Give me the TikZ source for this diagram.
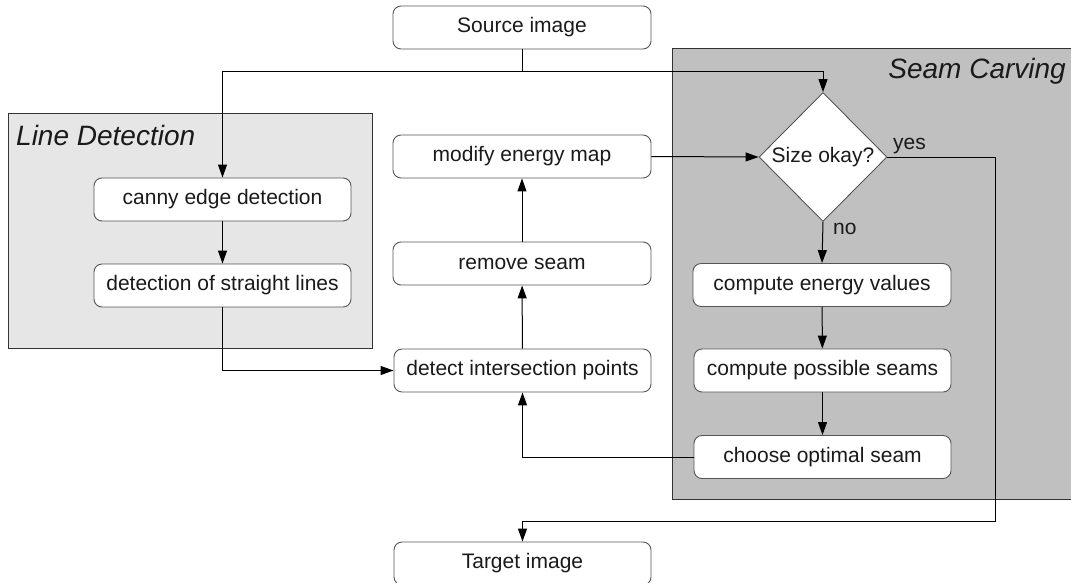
\documentclass[tikz,border=0pt]{standalone}
\usepackage{fontspec}
\setmainfont{Liberation Sans}
\usetikzlibrary{shapes.geometric,arrows.meta}
\definecolor{txt}{HTML}{1A1A1A}
\definecolor{boxline}{HTML}{555555}
\definecolor{ldfill}{HTML}{E6E6E6}
\definecolor{scfill}{HTML}{C0C0C0}
\definecolor{grpline}{HTML}{333333}
\tikzset{
  stepbox/.style={draw=boxline, line width=0.9pt, fill=white, rounded corners=8pt,
    minimum width=257pt, minimum height=43pt, inner sep=0pt, text=txt,
    font=\fontsize{21}{25}\selectfont},
  decision/.style={draw=boxline, line width=0.9pt, fill=white, diamond, aspect=1,
    minimum width=128pt, minimum height=129pt, inner sep=0pt, text=txt,
    font=\fontsize{21}{25}\selectfont},
  group/.style={draw=grpline, line width=1pt},
  grouptitle/.style={anchor=base west, inner sep=0pt, text=txt,
    font=\fontsize{28}{32}\selectfont\itshape},
  conn/.style={draw=black, line width=1pt},
  arr/.style={conn, -{Triangle[length=13pt,width=9pt]}},
  lbl/.style={text=txt, font=\fontsize{21}{25}\selectfont, inner sep=0pt}
}
\begin{document}
\begin{tikzpicture}[x=1pt,y=-1pt]
\useasboundingbox (0,0) rectangle (1071,582);
% group backgrounds
\draw[group, fill=ldfill] (8,113) rectangle (372,348);
\draw[group, fill=scfill] (672,48) rectangle (1085,499);
\node[grouptitle] (ldt) at (16,145) {Line Detection};
\node[grouptitle, anchor=base east] (sct) at (1066,78) {Seam Carving};
% nodes
\node[stepbox, minimum width=258pt] (src) at (522,27.5) {Source image};
\node[stepbox] (canny) at (222.5,199.5) {canny edge detection};
\node[stepbox] (straight) at (222.5,285.5) {detection of straight lines};
\node[stepbox, minimum width=258pt] (modify) at (522,156.5) {modify energy map};
\node[stepbox, minimum width=258pt] (remove) at (522,263.5) {remove seam};
\node[stepbox] (detect) at (522.5,370.5) {detect intersection points};
\node[stepbox] (target) at (522.5,563.5) {Target image};
\node[stepbox, minimum width=258pt] (energy) at (822,285) {compute energy values};
\node[stepbox] (possible) at (822.5,370.5) {compute possible seams};
\node[stepbox] (choose) at (822.5,457) {choose optimal seam};
\node[decision] (dia) at (823,157) {Size okay?};
% coordinates
\coordinate (j) at (522,71);
\coordinate (yc) at (995,521);
% connectors
\draw[conn] (src.south) -- (j);
\draw[arr] (j) -| (canny.north);
\draw[arr] (j) -| (dia.north);
\draw[arr] (canny) -- (straight);
\draw[arr] (straight.south) |- (detect.west);
\draw[arr] (detect) -- (remove);
\draw[arr] (remove) -- (modify);
\draw[arr] (modify.east) -- (dia.west);
\draw[arr] (dia.east) -| (yc) -| (target.north);
\draw[arr] (dia.south) -- (energy.north);
\draw[arr] (energy) -- (possible);
\draw[arr] (possible) -- (choose);
\draw[arr] (choose.west) -| (detect.south);
% labels
\node[lbl, anchor=base west] (yes) at (893,149) {yes};
\node[lbl, anchor=base west] (no) at (833,234) {no};
\end{tikzpicture}
\end{document}
